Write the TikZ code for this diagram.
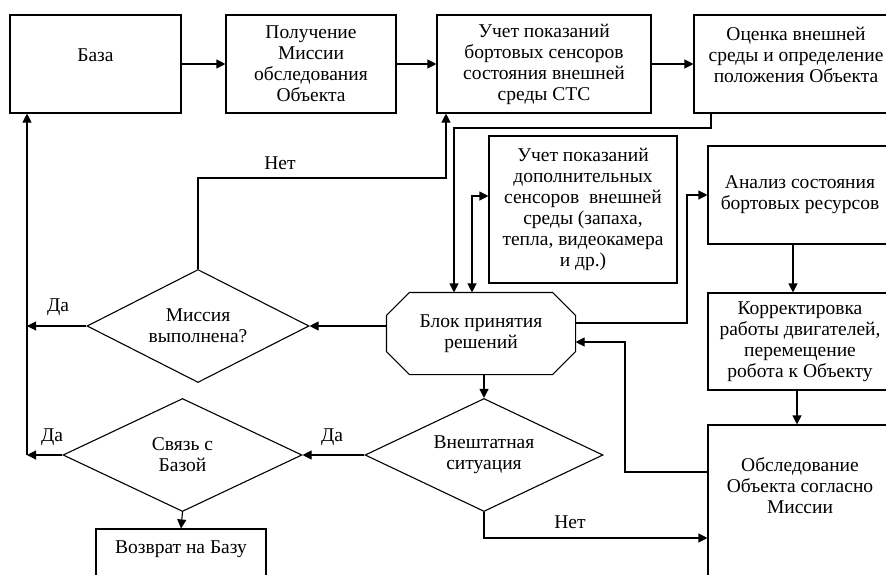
\documentclass[tikz,border=0pt]{standalone}
\usepackage{fontspec}
\setmainfont{Liberation Serif}
\usetikzlibrary{arrows.meta,shapes.geometric}
\tikzset{
  >={Triangle[length=9pt,width=9pt]},
  every node/.style={font=\fontsize{19.5}{21}\selectfont, inner sep=0pt},
  box/.style={draw, rectangle, align=center},
  decision/.style={draw, diamond, aspect=2, align=center},
  lbl/.style={anchor=center},
}
\begin{document}
\begin{tikzpicture}[x=1pt,y=-1pt,line width=1.1pt]
\useasboundingbox (0,0) rectangle (886,574);
% top row
\node[box, minimum width=171, minimum height=98] (baza) at (95.5,64) {};
\node[anchor=base] (baza-t) at (95.5,61) {База};
\node[box, minimum width=170, minimum height=98] (poluch) at (311,64) {Получение\\Миссии\\обследования\\Объекта};
\node[box, minimum width=214, minimum height=98] (uchet) at (544,64) {Учет показаний\\бортовых сенсоров\\состояния внешней\\среды СТС};
\node[box, minimum width=204, minimum height=98] (ocenka) at (796,64) {};
\node[anchor=north, align=center] (ocenka-t) at (796,27) {Оценка внешней\\среды и определение\\положения Объекта};
% middle
\node[box, minimum width=188, minimum height=147] (dop) at (583,209.5) {Учет показаний\\дополнительных\\сенсоров\ \ внешней\\среды (запаха,\\тепла, видеокамера\\и др.)};
\node[box, minimum width=184, minimum height=98] (analiz) at (800,195) {Анализ состояния\\бортовых ресурсов};
\node[box, minimum width=184, minimum height=97] (korr) at (800,341.5) {Корректировка\\работы двигателей,\\перемещение\\робота к Объекту};
\node[minimum width=188, minimum height=81, align=center] (blok) at (481,333.5) {Блок принятия\\решений};
\draw ([xshift=23]blok.north west) -- ([xshift=-23]blok.north east) -- ([yshift=-23]blok.north east)
  -- ([yshift=23]blok.south east) -- ([xshift=-23]blok.south east) -- ([xshift=23]blok.south west)
  -- ([yshift=23]blok.south west) -- ([yshift=-23]blok.north west) -- cycle;
\node[decision, minimum width=222, minimum height=113] (missia) at (198,326) {Миссия\\выполнена?};
% bottom
\node[decision, minimum width=238, minimum height=113] (vnesht) at (484,455) {Внештатная\\ситуация};
\node[decision, minimum width=239, minimum height=113] (svyaz) at (182.5,455) {Связь с\\Базой};
\node[box, minimum width=170, minimum height=80] (vozvrat) at (181,569) {};
\node[anchor=base] (vozvrat-t) at (181,553) {Возврат на Базу};
\node[box, minimum width=184, minimum height=200] (obsl) at (800,525) {};
\node[anchor=north, align=center] (obsl-t) at (800,457) {Обследование\\Объекта согласно\\Миссии};
\coordinate (rail) at (27,455);
% labels
\node[lbl] (net1) at (280,163) {Нет};
\node[lbl] (da1) at (58,307) {Да};
\node[lbl] (da2) at (52,437) {Да};
\node[lbl] (da3) at (332,437) {Да};
\node[lbl] (net2) at (570,522) {Нет};
% connectors
\draw[->] (baza) -- (poluch);
\draw[->] (poluch) -- (uchet);
\draw[->] (uchet) -- (ocenka);
\draw[->] (ocenka.south -| 711,0) |- (454,128) -- (blok.north -| 454,0);
\draw[<->] (blok.north -| 472,0) |- ([yshift=13.5]dop.west);
\draw[->] (blok.east |- 0,323) -- (687,323) |- (analiz.west);
\draw[->] ([xshift=-7]analiz.south) -- ([xshift=-7]korr.north);
\draw[->] ([xshift=-3]korr.south) -- ([xshift=-3]obsl.north);
\draw[->] (obsl.west |- 0,472) -| (625,342) -- (blok.east |- 0,342);
\draw[->] (blok.west |- missia.east) -- (missia.east);
\draw[->] (missia.north) |- (446,178) -- (uchet.south -| 446,0);
\draw[->] (missia.west) -- (missia.west -| rail);
\draw[->] (svyaz.west) -- (rail);
\draw[->] (rail) -- (baza.south -| rail);
\draw[->] (vnesht.north |- blok.south) -- (vnesht.north);
\draw[->] (vnesht.west) -- (svyaz.east);
\draw[->] (svyaz.south) -- (vozvrat.north);
\draw[->] (vnesht.south) |- (obsl.west |- 0,538);
\end{tikzpicture}
\end{document}
